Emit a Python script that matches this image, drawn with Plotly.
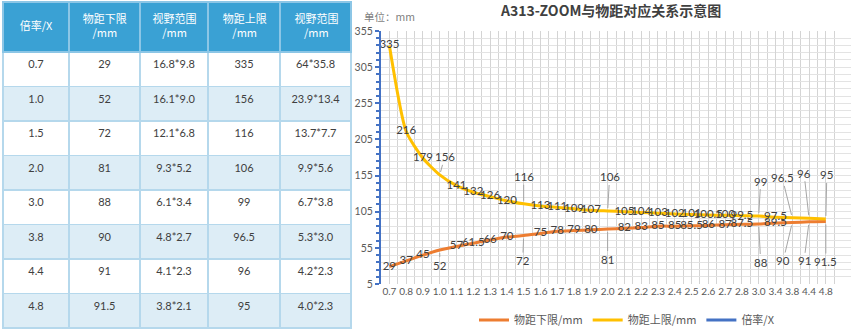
import plotly.graph_objects as go

# ---------------- data ----------------
mag_labels = ["0.7", "0.8", "0.9", "1.0", "1.1", "1.2", "1.3", "1.4", "1.5", "1.6",
              "1.7", "1.8", "1.9", "2.0", "2.1", "2.2", "2.3", "2.4", "2.5", "2.6",
              "2.7", "2.8", "3.0", "3.4", "3.8", "4.4", "4.8"]
mag_values = [0.7, 0.8, 0.9, 1.0, 1.1, 1.2, 1.3, 1.4, 1.5, 1.6, 1.7, 1.8, 1.9, 2.0,
              2.1, 2.2, 2.3, 2.4, 2.5, 2.6, 2.7, 2.8, 3.0, 3.4, 3.8, 4.4, 4.8]
lower = [29, 37, 45, 52, 57, 61.5, 66, 70, 72, 75, 78, 79, 80, 81, 82, 83, 85, 85,
         85.5, 86, 87, 87.5, 88, 89.5, 90, 91, 91.5]
upper = [335, 216, 179, 156, 141, 132, 126, 120, 116, 113, 111, 109, 107, 106, 105,
         104, 103, 102, 101, 100.5, 100, 99.5, 99, 97.5, 96.5, 96, 95]

tbl_header = ["倍率/X", "物距下限<br>/mm", "视野范围<br>/mm", "物距上限<br>/mm", "视野范围<br>/mm"]
tbl_mag = ["0.7", "1.0", "1.5", "2.0", "3.0", "3.8", "4.4", "4.8"]
tbl_near = ["29", "52", "72", "81", "88", "90", "91", "91.5"]
tbl_fov_near = ["16.8*9.8", "16.1*9.0", "12.1*6.8", "9.3*5.2", "6.1*3.4", "4.8*2.7", "4.1*2.3", "3.8*2.1"]
tbl_far = ["335", "156", "116", "106", "99", "96.5", "96", "95"]
tbl_fov_far = ["64*35.8", "23.9*13.4", "13.7*7.7", "9.9*5.6", "6.7*3.8", "5.3*3.0", "4.2*2.3", "4.0*2.3"]

# ---------------- styling ----------------
W, H = 859, 332
FONT = "Lato, Noto Sans CJK SC, sans-serif"
CJK = "Noto Sans CJK SC"
ORANGE = "#ED7D31"
YELLOW = "#FFC000"
BLUE = "#4472C4"
LABEL = "#404040"
TICK = "#595959"
HEAD_BLUE = "#3AA1D4"

# labels moved away from the line with leader lines (pixel offsets)
moved_upper = {3: (5, -18), 8: (0, -27), 13: (2, -34), 22: (2, -35),
               24: (-10, -40), 25: (-5, -45), 26: (1, -44)}
moved_lower = {3: (0, 15), 8: (-1, 25), 13: (0, 30), 22: (2, 38),
               24: (-9, 38), 25: (-5, 39), 26: (0, 40)}

def fmt(v):
    return ("%g" % v)

xs = list(range(len(mag_labels)))
upper_txt = ["" if i in moved_upper else fmt(v) for i, v in enumerate(upper)]
lower_txt = ["" if i in moved_lower else fmt(v) for i, v in enumerate(lower)]

fig = go.Figure()

# ---------- table ----------
tbl_x0, tbl_x1, head_top, head_bot = 3, 352, 2, 52
col_w = [66, 71, 68, 72, 71]
row_fill = ["#FFFFFF" if i % 2 == 0 else "#DDEDF6" for i in range(len(tbl_mag))]
fig.add_trace(go.Table(
    domain=dict(x=[tbl_x0 / W, tbl_x1 / W], y=[0, 1 - head_top / H]),
    columnwidth=col_w,
    header=dict(values=[""] * len(tbl_header), fill_color="rgba(0,0,0,0)",
                line=dict(color="#8CC6E6", width=1.5), height=head_bot - head_top),
    cells=dict(values=[tbl_mag, tbl_near, tbl_fov_near, tbl_far, tbl_fov_far],
               fill_color=[row_fill] * 5,
               line=dict(color="#B5D8EC", width=1.5),
               font=dict(family=FONT, size=11, color=LABEL),
               align=["center"] * 5, height=34.5),
))

# header labels drawn as centred text over a header band (column centres from widths)
col_centers = []
acc = 0
for w in col_w:
    col_centers.append(acc + w / 2)
    acc += w
fig.add_trace(go.Scatter(
    x=col_centers, y=[0.5] * len(tbl_header), text=tbl_header, mode="text",
    textposition="middle center", textfont=dict(family=CJK, size=11, color="white"),
    showlegend=False, hoverinfo="skip", cliponaxis=False, xaxis="x4", yaxis="y4"))

# ---------- chart ----------
fig.add_trace(go.Scatter(
    x=xs, y=lower, name="物距下限/mm", mode="lines+text",
    line=dict(color=ORANGE, width=3, shape="spline", smoothing=0.6),
    text=lower_txt, textposition="middle center",
    textfont=dict(family=FONT, size=11.5, color=LABEL),
    cliponaxis=False, xaxis="x", yaxis="y"))
fig.add_trace(go.Scatter(
    x=xs, y=upper, name="物距上限/mm", mode="lines+text",
    line=dict(color=YELLOW, width=3, shape="spline", smoothing=0.6),
    text=upper_txt, textposition="middle center",
    textfont=dict(family=FONT, size=11.5, color=LABEL),
    cliponaxis=False, xaxis="x", yaxis="y"))
# magnification series: its values lie below the visible axis minimum (hidden, as in the reference)
fig.add_trace(go.Scatter(
    x=xs, y=mag_values, name="倍率/X", mode="lines",
    line=dict(color=BLUE, width=3), xaxis="x", yaxis="y3"))

ann = []
for idx_map, vals in ((moved_upper, upper), (moved_lower, lower)):
    for i, (ax, ay) in idx_map.items():
        ann.append(dict(x=xs[i], y=vals[i], xref="x", yref="y", text=fmt(vals[i]),
                        showarrow=True, arrowhead=0, arrowwidth=1, arrowcolor="#A6A6A6",
                        ax=ax, ay=ay, standoff=3,
                        font=dict(family=FONT, size=11.5, color=LABEL)))

ann.append(dict(x=610 / W, y=1 - 10 / H, xref="paper", yref="paper",
                xanchor="center", yanchor="middle",
                text="<b>A313-ZOOM与物距对应关系示意图</b>", showarrow=False,
                font=dict(family=CJK, size=14, color="#404040")))
ann.append(dict(x=362 / W, y=1 - 16 / H, xref="paper", yref="paper",
                xanchor="left", yanchor="middle",
                text="单位：mm", showarrow=False,
                font=dict(family=CJK, size=10.5, color="#7F7F7F")))

x_dom = [381 / W, 851 / W]
y_dom = [1 - 284 / H, 1 - 31 / H]
yr = [5, 355]
head_dom_x = [tbl_x0 / W, tbl_x1 / W]
head_dom_y = [1 - head_bot / H, 1 - head_top / H]

fig.update_layout(
    width=W, height=H, margin=dict(l=0, r=0, t=0, b=0, autoexpand=False),
    paper_bgcolor="white", plot_bgcolor="white",
    font=dict(family=FONT, color=TICK),
    showlegend=True,
    legend=dict(orientation="h", x=627 / W, xanchor="center", y=1 - 320 / H,
                yanchor="middle", font=dict(family=CJK, size=11, color=TICK),
                itemwidth=30, bgcolor="rgba(0,0,0,0)"),
    shapes=[dict(type="rect", xref="paper", yref="paper", layer="below",
                 x0=head_dom_x[0], x1=head_dom_x[1], y0=head_dom_y[0], y1=head_dom_y[1],
                 fillcolor=HEAD_BLUE, line=dict(width=0))],
    xaxis=dict(domain=x_dom, range=[-0.5, 27.5], tickmode="array", tickvals=xs,
               ticktext=mag_labels, tickangle=0, automargin=False,
               showgrid=True, gridcolor="#D4D4D4", gridwidth=1,
               zeroline=False, showline=False, ticks="",
               tickfont=dict(family=FONT, size=10, color=TICK),
               minor=dict(tickmode="array", tickvals=[i - 0.5 for i in range(29)],
                          showgrid=True, gridcolor="#D4D4D4", gridwidth=1)),
    yaxis=dict(domain=y_dom, range=yr, tick0=5, dtick=50, showgrid=True, automargin=False,
               gridcolor="#E3E3E3", zeroline=False, showline=True, linecolor=BLUE,
               linewidth=2, ticks="outside", ticklen=4, tickcolor=BLUE, tickwidth=1.5,
               tickfont=dict(family=FONT, size=10.5, color=TICK),
               minor=dict(tick0=5, dtick=10, showgrid=True, gridcolor="#E3E3E3",
                          ticks="outside", ticklen=3, tickcolor=BLUE)),
    yaxis2=dict(domain=y_dom, range=yr, overlaying="y", anchor="x", side="left",
                automargin=False, showgrid=False, zeroline=False, showline=False,
                showticklabels=False,
                tick0=5, dtick=50, ticks="inside", ticklen=4, tickcolor=BLUE, tickwidth=1.5,
                minor=dict(tick0=5, dtick=10, ticks="inside", ticklen=3, tickcolor=BLUE)),
    yaxis3=dict(domain=y_dom, range=[10, 360], overlaying="y", anchor="x", visible=False,
                automargin=False),
    xaxis4=dict(domain=head_dom_x, range=[0, sum(col_w)], visible=False, anchor="y4",
                automargin=False, fixedrange=True),
    yaxis4=dict(domain=head_dom_y, range=[0, 1], visible=False, anchor="x4",
                automargin=False, fixedrange=True),
    annotations=ann,
)

fig.write_html("out.html")
